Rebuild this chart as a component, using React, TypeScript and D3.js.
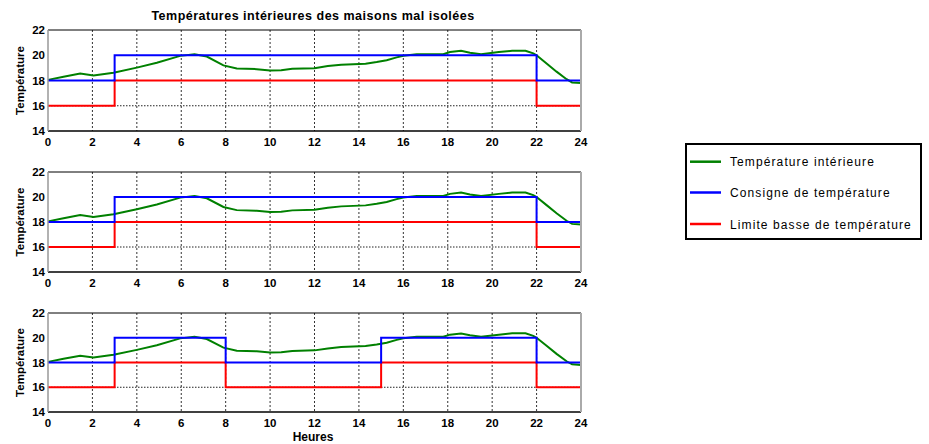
import React from "react";
import * as d3 from "d3";

const hours = [0, 0.7, 1.45, 2.05, 2.95, 4.0, 4.9, 5.95, 6.6, 7.15, 7.9, 8.5, 9.4, 10.0, 10.5, 11.0, 12.0, 12.6, 13.2, 14.3, 14.8, 15.25, 15.7, 16.0, 16.6, 17.8, 18.1, 18.6, 19.0, 19.5, 20.3, 20.9, 21.5, 21.85, 22.0, 22.45, 22.9, 23.35, 23.6, 24];
const tempInterieure = [18.05, 18.3, 18.55, 18.4, 18.62, 19.02, 19.4, 19.95, 20.08, 19.9, 19.2, 18.95, 18.9, 18.8, 18.82, 18.93, 18.98, 19.14, 19.25, 19.33, 19.46, 19.6, 19.83, 19.96, 20.08, 20.08, 20.25, 20.35, 20.2, 20.08, 20.25, 20.36, 20.36, 20.15, 20.0, 19.35, 18.7, 18.1, 17.85, 17.8];

const stepTimesA = [0, 3, 22, 24];
const consigneA = [18, 20, 18, 18];
const limiteA = [16, 18, 16, 16];

const stepTimesB = [0, 3, 8, 15, 22, 24];
const consigneB = [18, 20, 18, 20, 18, 18];
const limiteB = [16, 18, 16, 18, 16, 16];

const xTicks = [0, 2, 4, 6, 8, 10, 12, 14, 16, 18, 20, 22, 24];
const yTicks = [14, 16, 18, 20, 22];

const legendLabels = ["Température intérieure", "Consigne de température", "Limite basse de température"];
const colors = { green: "#008000", blue: "#0000ff", red: "#ff0000" };

const FONT = "'Liberation Sans', Arial, sans-serif";

const panels = [
  { top: 30, bottom: 131, steps: stepTimesA, consigne: consigneA, limite: limiteA },
  { top: 172, bottom: 272, steps: stepTimesA, consigne: consigneA, limite: limiteA },
  { top: 313, bottom: 412, steps: stepTimesB, consigne: consigneB, limite: limiteB },
];

const X0 = 48;
const X1 = 581;

function Panel({ top, bottom, steps, consigne, limite }: any) {
  const x = d3.scaleLinear().domain([0, 24]).range([X0, X1]);
  const y = d3.scaleLinear().domain([14, 22]).range([bottom, top]);
  const line = d3.line<number>().x((_, i) => x(hours[i])).y((d) => y(d));
  const step = d3.line<number>().x((_, i) => x(steps[i])).y((d) => y(d)).curve(d3.curveStepAfter);
  return (
    <g>
      {xTicks.slice(1, -1).map((t) => (
        <line key={t} x1={x(t)} x2={x(t)} y1={top} y2={bottom} stroke="#333" strokeWidth={1} strokeDasharray="2,2" />
      ))}
      <line x1={X0} x2={X1} y1={y(16)} y2={y(16)} stroke="#222" strokeWidth={1} strokeDasharray="1.5,1.5" />
      <path d={line(tempInterieure) || ""} fill="none" stroke={colors.green} strokeWidth={2} />
      <path d={step(limite) || ""} fill="none" stroke={colors.red} strokeWidth={2} />
      <path d={step(consigne) || ""} fill="none" stroke={colors.blue} strokeWidth={2} />
      <line x1={X0} x2={X1} y1={top} y2={top} stroke="#000" strokeWidth={1} />
      <line x1={X0} x2={X1} y1={bottom} y2={bottom} stroke="#000" strokeWidth={1.5} />
      <line x1={X0} x2={X0} y1={top} y2={bottom} stroke="#999" strokeWidth={1.5} />
      <line x1={X1} x2={X1} y1={top} y2={bottom} stroke="#aaa" strokeWidth={2} />
      {xTicks.map((t) => (
        <text key={t} x={x(t)} y={bottom + 15} textAnchor="middle" fontFamily={FONT} fontWeight="bold" fontSize={11.5}>{t}</text>
      ))}
      {yTicks.map((t) => (
        <text key={t} x={45} y={y(t) + 4} textAnchor="end" fontFamily={FONT} fontWeight="bold" fontSize={11.5}>{t}</text>
      ))}
      <text transform={`translate(24,${(top + bottom) / 2}) rotate(-90)`} textAnchor="middle" fontFamily={FONT} fontWeight="bold" fontSize={11.5}>Température</text>
    </g>
  );
}

export default function App() {
  const legendColors = [colors.green, colors.blue, colors.red];
  const legendY = [161.7, 192.5, 224];
  return (
    <svg width={929} height={444} style={{ position: "absolute", left: 0, top: 0, background: "#fff" }}>
      <rect width={929} height={444} fill="#fff" />
      <text x={313} y={20} textAnchor="middle" fontFamily={FONT} fontWeight="bold" fontSize={12.5} letterSpacing={0.5}>Températures intérieures des maisons mal isolées</text>
      {panels.map((p, i) => <Panel key={i} {...p} />)}
      <text x={313} y={441} textAnchor="middle" fontFamily={FONT} fontWeight="bold" fontSize={12}>Heures</text>
      <rect x={686} y={144} width={235} height={95} fill="#fff" stroke="#000" strokeWidth={2} />
      {legendLabels.map((lab, i) => (
        <g key={lab}>
          <line x1={690} x2={721} y1={legendY[i]} y2={legendY[i]} stroke={legendColors[i]} strokeWidth={2.5} />
          <text x={730} y={legendY[i] + 4.5} fontFamily={FONT} fontSize={12} letterSpacing={1.1}>{lab}</text>
        </g>
      ))}
    </svg>
  );
}
